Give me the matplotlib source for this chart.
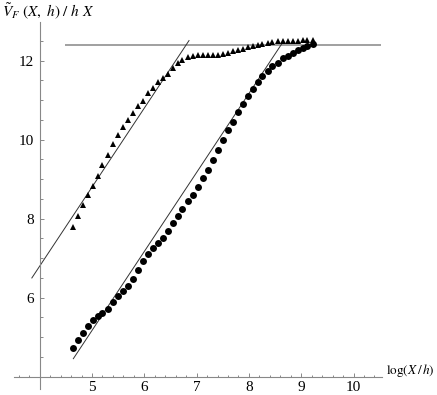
import matplotlib
matplotlib.use("Agg")
import matplotlib.pyplot as plt
from matplotlib.ticker import MultipleLocator, FixedLocator

plt.rcParams["font.family"] = ["Liberation Serif", "DejaVu Serif"]
plt.rcParams["mathtext.fontset"] = "stix"

# log(X/h) sample positions (shared by both series)
log_x = [4.63, 4.73, 4.82, 4.92, 5.01, 5.11, 5.20, 5.30, 5.40, 5.49,
         5.59, 5.68, 5.78, 5.87, 5.97, 6.07, 6.16, 6.26, 6.35, 6.45,
         6.54, 6.64, 6.73, 6.83, 6.93, 7.02, 7.12, 7.21, 7.31, 7.40,
         7.50, 7.60, 7.69, 7.79, 7.88, 7.98, 8.07, 8.17, 8.26, 8.36,
         8.45, 8.55, 8.65, 8.74, 8.84, 8.93, 9.03, 9.12, 9.22]

# triangles
tri_y = [7.79, 8.06, 8.34, 8.59, 8.84, 9.08, 9.35, 9.62, 9.90, 10.13,
         10.33, 10.51, 10.68, 10.85, 10.99, 11.19, 11.32, 11.45, 11.56, 11.67,
         11.81, 11.94, 12.03, 12.09, 12.13, 12.14, 12.14, 12.14, 12.14, 12.15,
         12.17, 12.20, 12.24, 12.27, 12.30, 12.34, 12.37, 12.40, 12.43, 12.45,
         12.47, 12.49, 12.50, 12.51, 12.51, 12.51, 12.52, 12.52, 12.53]

# circles
circ_y = [4.73, 4.94, 5.11, 5.29, 5.44, 5.53, 5.61, 5.72, 5.88, 6.05,
          6.16, 6.29, 6.47, 6.69, 6.92, 7.11, 7.25, 7.38, 7.52, 7.69,
          7.89, 8.08, 8.25, 8.44, 8.61, 8.80, 9.03, 9.24, 9.49, 9.75,
          9.98, 10.24, 10.46, 10.69, 10.91, 11.11, 11.28, 11.45, 11.62, 11.75,
          11.86, 11.94, 12.07, 12.13, 12.19, 12.26, 12.32, 12.38, 12.43]

# slope-2 guide lines: intercepts and x extents
guide_slope = 2.0
guide_icpt = [-1.2, -4.83]
guide_x = [(3.85, 6.855), (4.643, 8.646)]

# saturation level
sat_level = 12.39
sat_x = (4.48, 10.53)

W, H = 437, 395
fig = plt.figure(figsize=(W / 100, H / 100), dpi=100)

x0, x1 = 3.5, 10.54
y0, y1 = 3.68, 12.99
px_x, px_y = 52.3, 39.5
left_px = 39.7 - (4 - x0) * px_x
bot_px = 376.7 + (4 - y0) * px_y
ax = fig.add_axes([left_px / W, 1 - bot_px / H,
                   (x1 - x0) * px_x / W, (y1 - y0) * px_y / H])
ax.set_xlim(x0, x1)
ax.set_ylim(y0, y1)

ax.hlines(sat_level, sat_x[0], sat_x[1], color="#999999", lw=1.3, zorder=1)
for c, (xa, xb) in zip(guide_icpt, guide_x):
    ax.plot([xa, xb], [guide_slope * xa + c, guide_slope * xb + c],
            color="#333333", lw=0.7, zorder=2)

ax.plot(log_x, tri_y, "^", color="black", ms=4.8, mew=0, zorder=3)
ax.plot(log_x, circ_y, "o", color="black", ms=5.0, mew=0, zorder=3)

# Mathematica-like axes crossing at (4, 4)
for s in ["top", "right"]:
    ax.spines[s].set_visible(False)
ax.spines["left"].set_position(("data", 4))
ax.spines["bottom"].set_position(("data", 4))
for s in ["left", "bottom"]:
    ax.spines[s].set_color("#888888")
    ax.spines[s].set_linewidth(0.8)

ax.xaxis.set_major_locator(FixedLocator([5, 6, 7, 8, 9, 10]))
ax.xaxis.set_minor_locator(MultipleLocator(0.2))
ax.yaxis.set_major_locator(FixedLocator([6, 8, 10, 12]))
ax.yaxis.set_minor_locator(MultipleLocator(0.5))
ax.tick_params(which="both", direction="in", color="#888888", width=0.7,
               labelsize=11, labelcolor="black")
ax.tick_params(which="major", length=3.2, pad=3)
ax.tick_params(which="minor", length=1.8)
ax.tick_params(axis="y", which="major", pad=4)

fig.text(2 / W, 1 - 17 / H, r"$\tilde{V}_F\ (X,\ h)\ /\ h\ X$", fontsize=11,
         ha="left", va="baseline")
fig.text(386 / W, 1 - 374 / H, r"$\mathrm{log}(X\,/\,h)$", fontsize=9.5,
         ha="left", va="baseline")

fig.savefig("out.png", dpi=100)
